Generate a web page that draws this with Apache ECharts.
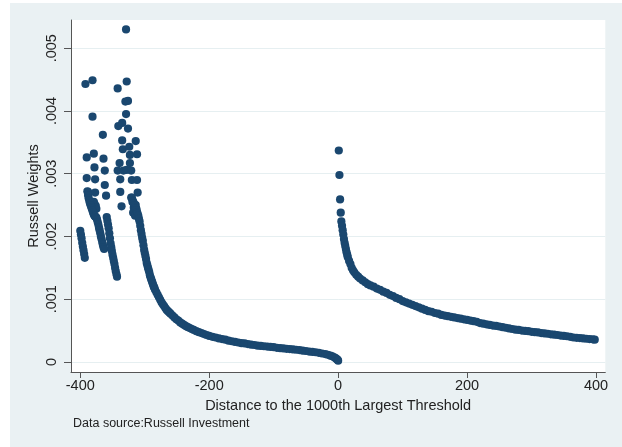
<!DOCTYPE html>
<html>
<head>
<meta charset="utf-8">
<script src="https://cdn.jsdelivr.net/npm/echarts@6/dist/echarts.min.js"></script>
<style>
    html, body { margin: 0; padding: 0; background: #fff; }
    #main { width: 622px; height: 447px; }
</style>
</head>
<body>
<div id="main"></div>
<script>
var xTicks = [-400, -200, 0, 200, 400];
var yTicks = [0, 0.001, 0.002, 0.003, 0.004, 0.005];
var yTickLabels = ['0', '.001', '.002', '.003', '.004', '.005'];

// loose points of the two clusters left of -300
var clusterPts = [
    [-392, .00443], [-381, .00449], [-381, .00391], [-365, .00362], [-390, .00326],
    [-379, .00332], [-378, .00310], [-390, .00293], [-377, .00291], [-388, .00271],
    [-377, .00270], [-364, .00324], [-362, .00305], [-362, .00282], [-360, .00265],
    [-378, .00252], [-376, .00249], [-375, .00244], [-379, .00255], [-377, .00246],
    [-329, .00530], [-342, .00436], [-328, .00447], [-330, .00415], [-326, .00416],
    [-329, .00395], [-341, .00376], [-335, .00381], [-326, .00372], [-335, .00353],
    [-314, .00352], [-334, .00339], [-324, .00343], [-323, .00330], [-312, .00331],
    [-339, .00317], [-323, .00317], [-342, .00305], [-333, .00305], [-328, .00306],
    [-321, .00305], [-338, .00291], [-320, .00290], [-312, .00290], [-338, .00271],
    [-311, .00270], [-336, .00248],
    [-321, .00262], [-319, .00255], [-317, .00246], [-318, .00238], [-316, .00240],
    [-314, .00250], [-313, .00244], [-315, .00233]
];

// the three short falling strands
var strandPts = [
    [-400, .00209], [-399, .00203], [-398, .00197], [-397, .00190], [-396, .00184],
    [-395, .00178], [-394, .00172], [-393, .00166],
    [-389, .00272], [-388, .00266], [-387, .00261], [-386, .00257], [-385, .00253],
    [-384, .00250], [-383, .00247], [-382, .00244], [-381, .00241], [-380, .00238],
    [-379, .00235], [-378, .00233], [-377, .00232], [-376, .00231], [-375, .00230],
    [-374, .00227], [-373, .00223], [-372, .00219], [-371, .00214], [-370, .00210],
    [-369, .00205], [-368, .00200], [-367, .00196], [-366, .00191], [-365, .00187],
    [-364, .00183], [-363, .00180],
    [-359, .00231], [-358, .00225], [-357, .00219], [-356, .00213], [-355, .00205],
    [-354, .00197], [-353, .00189], [-352, .00183], [-351, .00177], [-350, .00171],
    [-349, .00166], [-348, .00161], [-347, .00156], [-346, .00150], [-345, .00145],
    [-344, .00140], [-343, .00136]
];

// below the threshold
var belowPts = [
    [-320, .00262], [-319, .00258], [-318, .00255], [-317, .00253], [-316, .00250],
    [-315, .00247], [-314, .00245], [-313, .00242], [-312, .00239], [-311, .00236],
    [-310, .00233], [-309, .00228], [-308, .00224], [-307, .00217], [-306, .00210],
    [-305, .00204], [-304, .00198], [-303, .00193], [-302, .00186], [-301, .00179],
    [-300, .00174], [-299, .00169], [-298, .00164], [-297, .00158], [-296, .00154],
    [-295, .00150], [-294, .00147], [-293, .00143], [-292, .00138], [-291, .00135],
    [-290, .00132], [-289, .00129], [-288, .00126], [-287, .00123], [-286, .00120],
    [-285, .00118], [-284, .00115], [-282, .00111], [-280, .00107], [-278, .00103],
    [-276, .00099], [-274, .00095], [-272, .00092], [-270, .00089], [-268, .00086],
    [-266, .00083], [-264, .00081], [-262, .00079], [-260, .00077], [-257, .00074],
    [-254, .00071], [-251, .00068], [-248, .00066], [-245, .00063], [-242, .00061],
    [-239, .00059], [-236, .00057], [-233, .000555], [-230, .00054], [-227, .000525],
    [-224, .00051], [-220, .00049], [-216, .000475], [-212, .00046], [-208, .000445],
    [-204, .00043], [-200, .000415], [-195, .0004], [-190, .00039], [-185, .000375],
    [-180, .000365], [-175, .000355], [-170, .00034], [-165, .00033], [-160, .00032],
    [-155, .00031], [-150, .0003], [-145, .000295], [-140, .000285], [-135, .000275],
    [-130, .00027], [-125, .00026], [-120, .000255], [-115, .00025], [-110, .000245],
    [-105, .00024], [-100, .000235], [-95, .000225], [-90, .00022], [-85, .000215],
    [-80, .00021], [-75, .000205], [-70, .0002], [-65, .000195], [-60, .00019],
    [-55, .00018], [-50, .000175], [-45, .000165], [-40, .00016], [-35, .000155],
    [-30, .000145], [-25, .000135], [-20, .000125], [-16, .000115], [-12, .0001],
    [-9, .00009], [-6, .000075], [-4, .00006], [-2, .000045], [-1, .000035], [0, .00002]
];

// above the threshold
var abovePts = [
    [1, .00337], [2, .00298], [3, .00259], [4, .00238], [5, .00224], [6, .00217],
    [7, .0021], [8, .00203], [9, .00196], [10, .0019], [11, .00185], [12, .0018],
    [13, .00175], [14, .00171], [15, .00167], [17, .00161], [19, .00156], [21, .0015],
    [23, .00146], [25, .00143], [28, .00139], [31, .00136], [34, .00133], [38, .0013],
    [42, .00127], [46, .00124], [50, .00122], [55, .0012], [60, .00117], [65, .00115],
    [70, .00112], [75, .0011], [80, .00107], [85, .00105], [90, .00102], [95, .001],
    [100, .00097], [105, .00095], [110, .00093], [115, .00091], [120, .00089],
    [125, .00087], [130, .00085], [135, .00083], [140, .00081], [145, .0008],
    [150, .00078], [155, .00077], [160, .00075], [165, .00074], [170, .00073],
    [175, .00072], [180, .00071], [185, .0007], [190, .00069], [195, .00068],
    [200, .00067], [205, .00066], [210, .00065], [215, .00064], [220, .00062],
    [225, .00061], [230, .0006], [235, .00059], [240, .00058], [245, .000575],
    [250, .000565], [255, .000555], [260, .000545], [265, .000535], [270, .000525],
    [275, .000515], [280, .00051], [285, .0005], [290, .000495], [295, .00049],
    [300, .00048], [305, .000475], [310, .00047], [315, .00046], [320, .000455],
    [325, .00045], [330, .00044], [335, .000435], [340, .00043], [345, .00042],
    [350, .000415], [355, .00041], [360, .0004], [365, .00039], [370, .000385],
    [375, .00038], [380, .000375], [385, .00037], [390, .000365], [395, .00036],
    [398, .000355]
];

var myChart = echarts.init(document.getElementById('main'));

var textColor = '#222';
var axisColor = '#555';
var font = 'Arial, "Liberation Sans", sans-serif';

var option = {
    animation: false,
    textStyle: { fontFamily: font },
    graphic: [
        {
            type: 'rect', z: -10,
            shape: { x: 10, y: 3, width: 612, height: 444 },
            style: { fill: '#eaf1f3' }
        },
        {
            type: 'text', left: 73, top: 417,
            style: { text: 'Data source:Russell Investment', font: '12.5px ' + font, fill: textColor }
        }
    ],
    grid: {
        show: true,
        left: 71, right: 16.7, top: 20, bottom: 75,
        backgroundColor: '#fff',
        borderWidth: 0,
        containLabel: false,
        outerBoundsMode: 'none'
    },
    xAxis: {
        type: 'value',
        min: -414.4, max: 414.4,
        name: 'Distance to the 1000th Largest Threshold',
        nameLocation: 'middle',
        nameGap: 26,
        nameTextStyle: { fontSize: 14.5, color: textColor },
        axisLine: { onZero: false, lineStyle: { color: axisColor, width: 1 } },
        axisTick: { length: 6, lineStyle: { color: axisColor }, customValues: xTicks },
        axisLabel: { fontSize: 14.5, color: textColor, margin: 6, customValues: xTicks },
        splitLine: { show: false }
    },
    yAxis: {
        type: 'value',
        min: -0.00016, max: 0.00545,
        name: 'Russell Weights',
        nameLocation: 'middle',
        nameRotate: 90,
        nameGap: 30,
        nameMoveOverlap: false,
        nameTextStyle: { fontSize: 14.5, color: textColor },
        axisLine: { show: true, onZero: false, lineStyle: { color: axisColor, width: 1 } },
        axisTick: { show: true, length: 7, lineStyle: { color: axisColor }, customValues: yTicks },
        axisLabel: {
            fontSize: 14.5, color: textColor, rotate: 90, margin: 12,
            customValues: yTicks,
            formatter: function (v) {
                return yTickLabels[Math.round(v * 1000)];
            }
        },
        splitLine: { show: true, lineStyle: { color: '#e6eff1', width: 1 } }
    },
    series: [{
        type: 'scatter',
        symbol: 'circle',
        symbolSize: 8.2,
        itemStyle: { color: '#1a476f', opacity: 1 },
        data: clusterPts.concat(strandPts, belowPts, abovePts)
    }]
};

myChart.setOption(option);
</script>
</body>
</html>
